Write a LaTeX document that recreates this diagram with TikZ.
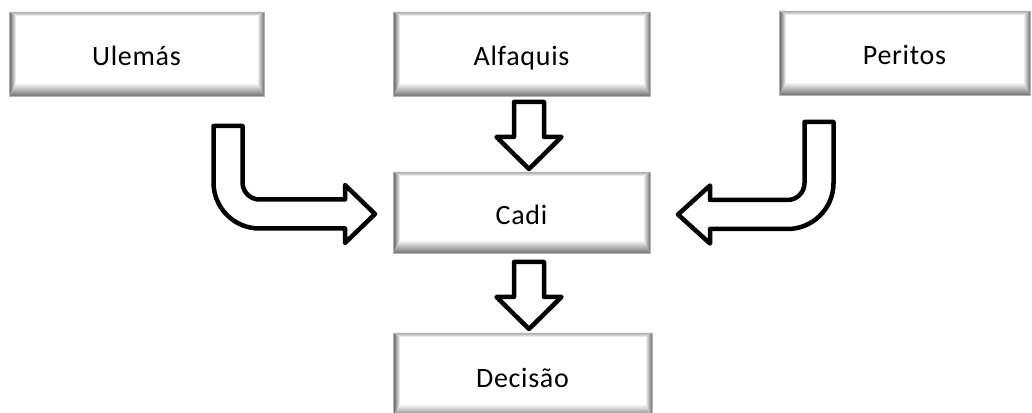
\documentclass[tikz,border=0pt]{standalone}
\usepackage{fontspec}
\setmainfont{Carlito}
\newfontfamily\panelfont[LetterSpace=2.5]{Carlito}
\usetikzlibrary{calc}

\tikzset{
  x=1pt, y=1pt,
  % white panel with a bevelled, shaded rim
  bevelbox/.style={
    minimum width=257pt, minimum height=84pt,
    inner sep=0pt, outer sep=0pt,
    fill=white, draw=black!30, line width=0.8pt,
    text height=24pt, text depth=0pt,
    font=\panelfont\fontsize{28}{33}\selectfont,
    path picture={
      \path let \p1=(path picture bounding box.south west),
                \p2=(path picture bounding box.north east) in
        coordinate (bsw) at (\x1,\y1) coordinate (bne) at (\x2,\y2)
        coordinate (bnw) at (\x1,\y2) coordinate (bse) at (\x2,\y1);
      % top rim
      \shade[top color=black!35, bottom color=white]
        (bnw) -- (bne) -- ($(bne)+(-7,-4)$) -- ($(bnw)+(7,-4)$) -- cycle;
      % left rim
      \shade[left color=black!65, right color=white]
        (bsw) -- (bnw) -- ($(bnw)+(7,-4)$) -- ($(bsw)+(7,13)$) -- cycle;
      % right rim
      \shade[left color=white, right color=black!55]
        (bse) -- (bne) -- ($(bne)+(-7,-4)$) -- ($(bse)+(-7,13)$) -- cycle;
      % bottom rim
      \shade[top color=white, bottom color=black!55]
        (bsw) -- (bse) -- ($(bse)+(-7,13)$) -- ($(bsw)+(7,13)$) -- cycle;
    }
  },
  blockarrow/.style={draw=black, fill=white, line width=4.5pt, line join=round}
}

% straight block arrow pointing down: #1 = top of the shaft, #2 = tip
\newcommand\downblock[2]{%
  \draw[blockarrow] let \p1=(#1), \p2=(#2) in
    (\x1-15pt,\y1) -- (\x1+15pt,\y1) -- (\x1+15pt,\y2+32pt)
    -- (\x1+32.5pt,\y2+32pt) -- (\x1,\y2) -- (\x1-32.5pt,\y2+32pt)
    -- (\x1-15pt,\y2+32pt) -- cycle;}

% bent block arrow, down then right
\newcommand\bentright[2]{%
  \draw[blockarrow] let \p1=(#1), \p2=(#2) in
    (\x1-14.5pt,\y1) -- (\x1+14.5pt,\y1) -- (\x1+14.5pt,\y2+31.5pt)
    arc[start angle=180, end angle=270, radius=17pt]
    -- (\x2-30pt,\y2+14.5pt) -- (\x2-30pt,\y2+29pt) -- (\x2,\y2)
    -- (\x2-30pt,\y2-29pt) -- (\x2-30pt,\y2-14.5pt) -- (\x1+31.5pt,\y2-14.5pt)
    arc[start angle=270, end angle=180, radius=46pt] -- cycle;}

% bent block arrow, down then left
\newcommand\bentleft[2]{%
  \draw[blockarrow] let \p1=(#1), \p2=(#2) in
    (\x1+14.5pt,\y1) -- (\x1-14.5pt,\y1) -- (\x1-14.5pt,\y2+31.5pt)
    arc[start angle=0, end angle=-90, radius=17pt]
    -- (\x2+32pt,\y2+14.5pt) -- (\x2+32pt,\y2+29pt) -- (\x2,\y2)
    -- (\x2+32pt,\y2-29pt) -- (\x2+32pt,\y2-14.5pt) -- (\x1-31.5pt,\y2-14.5pt)
    arc[start angle=-90, end angle=0, radius=46pt] -- cycle;}

\begin{document}
\begin{tikzpicture}
\useasboundingbox (0,0) rectangle (1032,412);

% panels
\node[bevelbox, minimum width=255pt] (ulemas) at (136.5,358) {Ulemás};
\node[bevelbox] (alf) at (521.5,358) {Alfaquis};
\node[bevelbox, minimum width=251pt] (per) at (904.5,359) {Peritos};
\node[bevelbox, minimum height=81pt] (cadi) at (521.5,199.5) {Cadi};
\node[bevelbox, minimum width=259pt] (dec) at (522.5,37) {Decisão};

% arrow end points
\coordinate (a1s) at ($(alf.south)+(7.5,-6)$);
\coordinate (a1t) at ($(cadi.north)+(7.5,3)$);
\coordinate (a2s) at ($(cadi.south)+(7.5,-9)$);
\coordinate (a2t) at ($(dec.north)+(7.5,4)$);
\coordinate (b1s) at ($(ulemas.south)+(91.5,-30)$);
\coordinate (b1t) at ($(cadi.west)+(-18,-1.5)$);
\coordinate (b2s) at ($(per.south)+(-85.5,-27)$);
\coordinate (b2t) at ($(cadi.east)+(28,-2)$);

% arrows
\downblock{a1s}{a1t}
\downblock{a2s}{a2t}
\bentright{b1s}{b1t}
\bentleft{b2s}{b2t}
\end{tikzpicture}
\end{document}
